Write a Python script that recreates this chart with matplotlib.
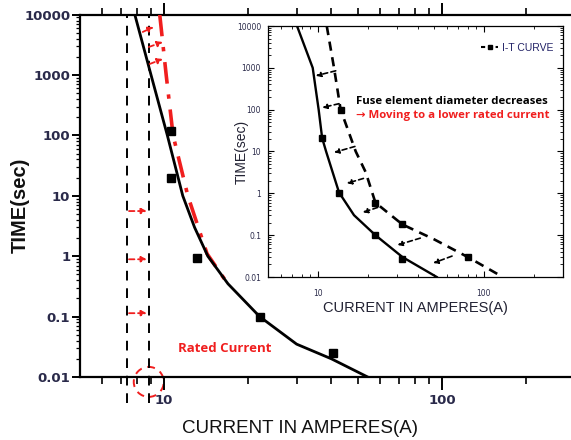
import matplotlib
matplotlib.use("Agg")
import matplotlib.pyplot as plt
import matplotlib.patches as mpatches
import matplotlib.transforms as mtransforms
from matplotlib.lines import Line2D
from matplotlib.ticker import FixedLocator, NullFormatter

# ---- main chart data (current A, time s) ----
main_i = [7.87, 9.0, 10.3, 11.7, 12.9, 14.4, 17.0, 22.1, 30.0, 40.0, 54.0]
main_t = [10000, 1000, 100, 10, 3, 1, 0.35, 0.1, 0.035, 0.02, 0.01]
main_pts_i = [10.6, 10.6, 13.2, 22.1, 40.5]
main_pts_t = [120, 20, 0.94, 0.1, 0.025]
red_i = [9.67, 10.2, 10.8, 12.2, 14.3, 17.2]
red_t = [10000, 1000, 100, 10, 1.1, 0.32]
rated_lines = [7.36, 8.83]
red_harrow_t = [5.6, 0.89, 0.114]
red_harrow_i = (7.5, 8.7)
red_diag = [((8.4, 5180), (9.2, 6250)),
            ((8.83, 2917), (9.92, 3530)),
            ((8.9, 1528), (9.92, 1850))]

# ---- inset data ----
in_solid_i = [7.48, 9.3, 10.1, 10.6, 11.2, 13.4, 16.5, 22.2, 32.3, 52.0]
in_solid_t = [10000, 1000, 100, 21, 10, 1.05, 0.3, 0.1, 0.03, 0.01]
in_solid_pts_i = [10.6, 13.4, 22.2, 32.3]
in_solid_pts_t = [21, 1.0, 0.1, 0.027]
in_dash_i = [11.3, 12.5, 13.7, 16.9, 19.4, 22.2, 32.3, 50.0, 80.0, 130.0]
in_dash_t = [10000, 1000, 100, 10, 3.2, 0.6, 0.18, 0.08, 0.03, 0.01]
in_dash_pts_i = [13.7, 22.2, 32.3, 80.0]
in_dash_pts_t = [100, 0.6, 0.18, 0.03]
in_arrows = [((12.8, 849), (9.7, 646)),
             ((13.4, 139), (10.6, 112)),
             ((16.7, 13.2), (12.5, 9.5)),
             ((18.8, 2.27), (14.9, 1.73)),
             ((22.9, 0.46), (18.6, 0.35)),
             ((41.4, 0.085), (30.1, 0.058)),
             ((64.3, 0.0316), (49.5, 0.0215))]

y_ticks = [0.01, 0.1, 1, 10, 100, 1000, 10000]
y_labels = ["0.01", "0.1", "1", "10", "100", "1000", "10000"]
x_ticks = [10, 100]
x_labels = ["10", "100"]
x_minor = [6, 7, 8, 9, 20, 30, 40, 50, 60, 70, 80, 90, 200]
y_minor = [m * 10.0 ** e for e in range(-2, 4) for m in range(2, 10)]

RED = "#f01e1e"
NAVY = "#2a2a4a"
ARIAL = ["Liberation Sans", "DejaVu Sans"]
NOTE = ["Open Sans", "DejaVu Sans"]

fig = plt.figure(figsize=(5.71, 4.40), dpi=100)
ax = fig.add_axes([80 / 571, 63 / 440, 495 / 571, 362.3 / 440])
ax.set_xscale("log")
ax.set_yscale("log")
ax.set_xlim(5, 300)
ax.set_ylim(0.01, 10000)

for s in ["left", "top", "bottom"]:
    ax.spines[s].set_linewidth(1.6)
ax.spines["right"].set_visible(False)

ax.xaxis.set_major_locator(FixedLocator(x_ticks))
ax.set_xticklabels(x_labels)
ax.xaxis.set_minor_locator(FixedLocator(x_minor))
ax.xaxis.set_minor_formatter(NullFormatter())
ax.yaxis.set_major_locator(FixedLocator(y_ticks))
ax.set_yticklabels(y_labels)
ax.yaxis.set_minor_locator(FixedLocator(y_minor))
ax.yaxis.set_minor_formatter(NullFormatter())
ax.tick_params(axis="x", which="major", direction="out", length=9, width=1.4,
               top=True, pad=3)
ax.tick_params(axis="x", which="minor", direction="out", length=5, width=1.2,
               top=True)
ax.tick_params(axis="y", which="major", direction="out", length=6, width=1.4, pad=1)
ax.tick_params(axis="y", which="minor", direction="out", length=3, width=0.9)
for lab in ax.get_xticklabels() + ax.get_yticklabels():
    lab.set_fontfamily("DejaVu Sans")
    lab.set_fontweight("bold")
    lab.set_fontsize(9.5)
    lab.set_color(NAVY)

ax.set_xlabel("CURRENT IN AMPERES(A)", fontsize=13.5, family=ARIAL, color="#111111")
ax.xaxis.set_label_coords(0.444, -0.118)
ax.set_ylabel("TIME(sec)", fontsize=14.5, fontweight="bold", family=ARIAL,
              color="#111111")
ax.yaxis.set_label_coords(-0.101, 0.474)

# rated current lines
for x in rated_lines:
    ax.plot([x, x], [0.0037, 10000], color="black", lw=1.4, ls=(0, (5, 4)),
            clip_on=False, zorder=2)

ax.plot(red_i, red_t, color=RED, lw=2.6, ls=(0, (6, 3, 1.2, 3)), zorder=3)
ax.plot(main_i, main_t, color="black", lw=2.0, zorder=4)
ax.plot(main_pts_i, main_pts_t, ls="none", marker="s", ms=6.2, color="black", zorder=5)

arr = dict(arrowstyle="-|>", color=RED, lw=1.3, ls=(0, (3, 2)),
           mutation_scale=8, shrinkA=0, shrinkB=0)
for t in red_harrow_t:
    ax.annotate("", xy=(red_harrow_i[1], t), xytext=(red_harrow_i[0], t),
                arrowprops=arr, zorder=6)
for (s, e) in red_diag:
    ax.annotate("", xy=e, xytext=s, arrowprops=arr, zorder=6)

ax.text(11.2, 0.03, "Rated Current", color=RED, fontsize=9.5, fontweight="bold",
        family=NOTE, va="center")

circ_t = fig.dpi_scale_trans + mtransforms.ScaledTranslation(
    rated_lines[1], 0.0083, ax.transData)
ax.add_patch(mpatches.Circle((0, 0), 0.15, transform=circ_t, fill=False,
                             edgecolor=RED, lw=1.4, ls=(0, (4, 3)), clip_on=False))

# ---- inset ----
ax2 = fig.add_axes([268 / 571, 163 / 440, 295 / 571, 251 / 440])
ax2.set_xscale("log")
ax2.set_yscale("log")
ax2.set_xlim(5, 300)
ax2.set_ylim(0.01, 10000)
for s in ax2.spines.values():
    s.set_linewidth(0.9)
ax2.xaxis.set_major_locator(FixedLocator(x_ticks))
ax2.set_xticklabels(x_labels)
ax2.xaxis.set_minor_locator(FixedLocator(x_minor))
ax2.xaxis.set_minor_formatter(NullFormatter())
ax2.yaxis.set_major_locator(FixedLocator(y_ticks))
ax2.set_yticklabels(y_labels)
ax2.yaxis.set_minor_locator(FixedLocator(y_minor))
ax2.yaxis.set_minor_formatter(NullFormatter())
ax2.tick_params(which="major", direction="in", length=4, width=0.8, top=True, right=True)
ax2.tick_params(which="minor", direction="in", length=2, width=0.6, top=True, right=True)
ax2.tick_params(axis="x", pad=9)
ax2.tick_params(axis="y", pad=5)
for lab in ax2.get_xticklabels() + ax2.get_yticklabels():
    lab.set_fontfamily("DejaVu Sans")
    lab.set_fontsize(5.5)
    lab.set_color(NAVY)

ax2.set_xlabel("CURRENT IN AMPERES(A)", fontsize=10.5, family=ARIAL, color="#222233")
ax2.xaxis.set_label_coords(0.5, -0.095)
ax2.set_ylabel("TIME(sec)", fontsize=10, family=ARIAL, color="#222233")
ax2.yaxis.set_label_coords(-0.065, 0.5)

ax2.plot(in_solid_i, in_solid_t, color="black", lw=1.7)
ax2.plot(in_solid_pts_i, in_solid_pts_t, ls="none", marker="s", ms=4, color="black")
ax2.plot(in_dash_i, in_dash_t, color="black", lw=1.9, ls=(0, (3.5, 2.5)))
ax2.plot(in_dash_pts_i, in_dash_pts_t, ls="none", marker="s", ms=4, color="black")

arr2 = dict(arrowstyle="-|>", color="black", lw=1.2, ls=(0, (3, 2)),
            mutation_scale=7, shrinkA=0, shrinkB=0)
for (s, e) in in_arrows:
    ax2.annotate("", xy=e, xytext=s, arrowprops=arr2)

ax2.text(0.298, 0.70, "Fuse element diameter decreases", transform=ax2.transAxes,
         fontsize=8.2, fontweight="bold", family=NOTE, color="black", va="center")
ax2.text(0.298, 0.645, "\u2192 Moving to a lower rated current", transform=ax2.transAxes,
         fontsize=8.2, fontweight="bold", family=NOTE, color=RED, va="center")

handle = Line2D([], [], color="black", lw=1.5, ls=(0, (2, 1.5)), marker="s", ms=3.5)
leg = ax2.legend([handle], ["I-T CURVE"], loc="upper right", frameon=False,
                 bbox_to_anchor=(1.0, 0.97), handlelength=1.6, handletextpad=0.4,
                 prop={"family": ARIAL, "size": 7.5})
for t in leg.get_texts():
    t.set_color("#222266")

fig.savefig("out.png", dpi=100)
